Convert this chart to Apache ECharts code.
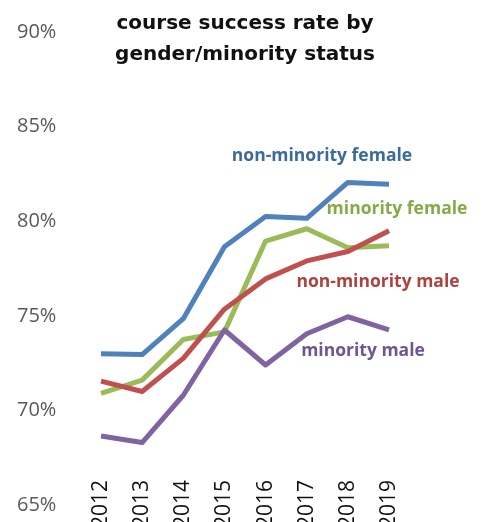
<!DOCTYPE html>
<html>
<head>
<meta charset="utf-8">
<script src="https://cdn.jsdelivr.net/npm/echarts@6/dist/echarts.min.js"></script>
<style>
  html, body { margin: 0; padding: 0; background: #fff; }
  #chart { width: 484px; height: 522px; }
</style>
</head>
<body>
<div id="chart"></div>
<script>
const years = ['2012', '2013', '2014', '2015', '2016', '2017', '2018', '2019'];
const nonMinorityFemale = [73.0, 72.95, 74.85, 78.65, 80.25, 80.15, 82.05, 81.95];
const minorityFemale = [70.9, 71.6, 73.75, 74.15, 78.95, 79.6, 78.6, 78.7];
const nonMinorityMale = [71.55, 71.0, 72.75, 75.35, 76.95, 77.9, 78.4, 79.5];
const minorityMale = [68.65, 68.3, 70.8, 74.25, 72.4, 74.05, 74.95, 74.25];
const yTicks = [65, 70, 75, 80, 85, 90];

const seriesDefs = [
  { name: 'non-minority female', data: nonMinorityFemale, color: '#4F81BD', text: '#3D6A9E', x: 322, y: 156 },
  { name: 'minority female', data: minorityFemale, color: '#9BBB59', text: '#88A947', x: 397, y: 209 },
  { name: 'non-minority male', data: nonMinorityMale, color: '#C0504D', text: '#B0413E', x: 378, y: 282 },
  { name: 'minority male', data: minorityMale, color: '#8064A2', text: '#6D5693', x: 363, y: 351 }
];

const chart = echarts.init(document.getElementById('chart'));
chart.setOption({
  animation: false,
  title: {
    text: 'course success rate by\ngender/minority status',
    left: 240,
    top: 3,
    textAlign: 'center',
    textStyle: {
      fontFamily: 'DejaVu Sans',
      fontWeight: 'bold',
      fontSize: 20,
      lineHeight: 31,
      color: '#111'
    }
  },
  grid: { left: 101, right: 95, top: 32, bottom: 17, outerBoundsMode: 'none' },
  xAxis: {
    type: 'category',
    data: years,
    boundaryGap: false,
    axisLine: { show: false },
    axisTick: { show: false },
    axisLabel: {
      rotate: 90,
      margin: -25,
      fontFamily: 'Open Sans',
      fontSize: 21,
      color: '#111'
    }
  },
  yAxis: {
    type: 'value',
    min: yTicks[0],
    max: yTicks[yTicks.length - 1],
    interval: 5,
    splitLine: { show: false },
    axisLine: { show: false },
    axisTick: { show: false },
    axisLabel: {
      align: 'left',
      margin: 84,
      fontFamily: 'Open Sans',
      fontSize: 20,
      color: '#595959',
      formatter: v => v + '%'
    }
  },
  series: seriesDefs.map(s => ({
    name: s.name,
    type: 'line',
    data: s.data,
    showSymbol: false,
    lineStyle: { width: 5, color: s.color, join: 'round' },
    itemStyle: { color: s.color }
  })),
  graphic: seriesDefs.map(s => ({
    type: 'text',
    x: s.x,
    y: s.y,
    style: {
      text: s.name,
      fill: s.text,
      font: 'bold 17.5px "Open Sans"',
      textAlign: 'center',
      textVerticalAlign: 'middle'
    }
  }))
});
</script>
</body>
</html>
